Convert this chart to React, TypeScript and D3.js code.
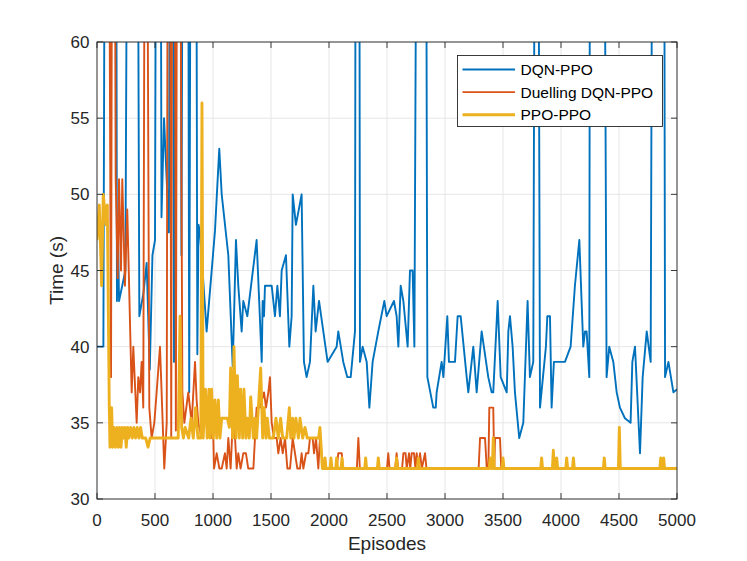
import React from "react";
import * as d3 from "d3";

// DQN-PPO (values above 60 run off the top of the axes)
const dqnEpisodes = [
  0, 55, 68, 165, 172, 180, 190, 245, 262, 350, 365, 400, 428, 455, 478, 500, 510, 548, 556, 578,
  620, 630, 655, 664, 672, 720, 728, 740, 785, 795, 808, 855, 865, 875, 888, 945, 1017, 1054, 1075,
  1132, 1170, 1198, 1218, 1247, 1261, 1296, 1376, 1420, 1428, 1440, 1448, 1506, 1534, 1555, 1577,
  1592, 1629, 1658, 1678, 1687, 1715, 1764, 1784, 1807, 1836, 1865, 1885, 1914, 1988, 2066, 2080,
  2123, 2158, 2187, 2224, 2230, 2261, 2267, 2290, 2325, 2348, 2376, 2425, 2477, 2497, 2560, 2583,
  2598, 2618, 2641, 2678, 2698, 2721, 2736, 2756, 2836, 2848, 2899, 2920, 2928, 2971, 2986, 3020,
  3034, 3086, 3109, 3135, 3187, 3201, 3244, 3273, 3316, 3373, 3402, 3416, 3454, 3480, 3532, 3546,
  3560, 3583, 3603, 3640, 3675, 3712, 3732, 3761, 3775, 3804, 3819, 3870, 3882, 3905, 3919, 3939,
  4034, 4083, 4120, 4158, 4192, 4207, 4221, 4244, 4250, 4373, 4393, 4416, 4451, 4480, 4508, 4551,
  4600, 4615, 4638, 4681, 4704, 4739, 4773, 4788, 4889, 4897, 4926, 4969, 5000,
];
const dqnTime = [
  40, 40, 75, 75, 43, 48, 43, 45, 75, 75, 42, 43.5, 45.5, 38.5, 46, 47, 75, 75, 48.5, 55,
  47.5, 75, 75, 39, 75, 75, 46, 75, 75, 37, 75, 75, 39.5, 48, 47.5, 41, 47.6, 53, 50,
  46, 38.7, 47, 44, 41, 43, 42, 47, 39, 43, 42, 44, 44, 42, 44, 42,
  45, 46, 40, 42, 50, 48, 50, 39, 38, 39, 44, 41, 43, 39, 40, 41,
  39, 38, 38, 41, 75, 75, 39, 40, 39, 36, 39, 41, 43, 42, 43, 42,
  40, 44, 43, 40, 45, 45, 40, 75, 75, 38, 36, 36, 37, 39, 38, 42,
  39, 39, 42, 42, 38, 37, 40, 37, 41, 38, 37, 37, 43, 38, 37, 41,
  42, 40, 37, 34, 35, 43, 38, 39, 75, 75, 36, 40, 42, 42, 36, 39,
  39, 40, 44, 47, 40, 41, 41, 38, 75, 75, 38, 40, 39, 37, 36, 35.3,
  35, 39, 40, 33, 38, 41, 39, 75, 75, 38, 39, 37, 37.2,
];

// Duelling DQN-PPO
const duelEpisodes = [
  0, 100, 121, 132, 150, 161, 178, 190, 207, 218, 241, 261, 299, 313, 342, 356, 371, 385, 399, 414,
  428, 451, 471, 494, 514, 543, 557, 580, 601, 612, 628, 640, 650, 668, 680, 692, 712, 736, 753,
  787, 816, 845, 859, 873, 902, 931, 960, 989, 1003, 1009, 1032, 1055, 1075, 1103, 1118, 1132, 1152,
  1170, 1190, 1204, 1218, 1238, 1261, 1284, 1304, 1348, 1362, 1376, 1405, 1440, 1457, 1477, 1491,
  1506, 1526, 1549, 1563, 1583, 1601, 1621, 1641, 1664, 1687, 1707, 1727, 1750, 1764, 1779, 1802,
  1822, 1836, 1859, 1871, 1888, 1908, 1922, 1951, 2066, 2080, 2110, 2120, 2240, 2253, 2266, 2500,
  2511, 2522, 2570, 2583, 2596, 2630, 2641, 2660, 2670, 2690, 2700, 2713, 2733, 2745, 2756, 2770,
  2785, 2800, 2828, 2840, 3290, 3302, 3345, 3360, 3374, 3382, 3416, 3425, 3431, 3474, 3485, 5000,
];
const duelTime = [
  80, 80, 38, 80, 80, 51, 44.5, 51, 45, 51, 44, 49, 37, 40, 35, 38, 37, 39, 36, 80,
  80, 36, 34, 35, 37, 40, 37, 32, 35, 80, 80, 34, 80, 80, 34.5, 80, 80, 37, 35,
  37, 35, 39, 36.5, 35, 34, 37, 35, 34, 34, 32, 33, 32, 32, 33, 32, 34, 32,
  35, 34, 32, 33, 32, 33, 33, 32, 32, 34, 36, 36, 37, 36, 37, 38,
  35, 34, 34, 33, 34, 33, 34, 32, 32, 34, 33, 32, 32, 33, 32, 33,
  33, 34, 34, 33, 34, 32, 34, 32, 32, 33, 33, 32, 32, 34, 32, 32,
  33, 32, 32, 33, 32, 32, 33, 33, 32, 33, 32, 33, 33, 32, 33, 32,
  33, 32, 33, 32, 32, 34, 34, 32, 32, 36, 36, 32, 34, 34, 32, 32,
];

// PPO-PPO
const ppoEpisodes = [
  0, 20, 40, 54, 78, 89, 106, 112, 126, 135, 146, 160, 172, 184, 195, 207, 218, 230, 241, 252,
  264, 275, 290, 305, 318, 333, 347, 362, 376, 390, 420, 440, 458, 700, 716, 730, 745, 760, 790,
  810, 830, 850, 870, 895, 905, 915, 935, 950, 965, 974, 988, 1003, 1017, 1032, 1046, 1060, 1075,
  1103, 1124, 1141, 1152, 1170, 1181, 1198, 1210, 1227, 1238, 1256, 1267, 1284, 1296, 1313, 1325,
  1348, 1362, 1376, 1391, 1411, 1428, 1440, 1457, 1468, 1486, 1520, 1543, 1563, 1583, 1601, 1635,
  1658, 1670, 1687, 1698, 1715, 1736, 1750, 1773, 1793, 1813, 1910, 1922, 1943, 1958, 1966, 1974,
  2009, 2017, 2025, 2058, 2066, 2074, 2104, 2112, 2120, 2308, 2316, 2324, 2417, 2425, 2433, 2575,
  2583, 2591, 2762, 2770, 2778, 3380, 3390, 3400, 3408, 3416, 3424, 3492, 3500, 3508, 3825, 3833,
  3841, 3926, 3934, 3942, 3955, 3963, 3971, 4041, 4049, 4057, 4099, 4107, 4115, 4365, 4373, 4381,
  4495, 4503, 4511, 4852, 4860, 4868, 4877, 4885, 4893, 5000,
];
const ppoTime = [
  47, 49.3, 44, 50, 48, 49.3, 36, 33.4, 36, 33.4, 34.7, 33.4, 34.7, 33.4, 34.7, 33.4, 34.7, 34, 34.7, 33.4,
  34.7, 34, 34.7, 34, 34.7, 34, 34.7, 34, 34.7, 34, 34, 33.4, 34, 34, 42, 34.7, 34, 34.7, 34,
  35.3, 34, 36, 34, 34, 56, 34, 37.2, 34, 37.2, 34, 37.2, 34, 36.5, 34, 36.5, 34, 35.3,
  35.3, 35.3, 34.7, 38.6, 34, 40, 34, 38.1, 34, 37.2, 34, 37.2, 34, 35.3, 34, 36.7,
  34, 35.3, 34, 36, 38.6, 34, 36, 34, 35.3, 34, 34, 35.3, 34, 35.3, 34, 34,
  36, 34, 35.3, 34, 35.3, 34, 35.3, 34, 34.7, 34, 34, 34.7, 32, 32, 32.7, 32,
  32, 32.7, 32, 32, 32.7, 32, 32, 32.7, 32, 32, 32.7, 32, 32, 32.7, 32, 32,
  32.7, 32, 32, 32.7, 32, 32, 32.7, 32, 32, 34, 32, 32, 32.7, 32, 32, 32.7,
  32, 32, 33.2, 32, 32, 32.7, 32, 32, 32.7, 32, 32, 32.7, 32, 32, 32.7, 32,
  32, 34.7, 32, 32, 32.7, 32, 32, 32.7, 32, 32,
];

const xTicks = [0, 500, 1000, 1500, 2000, 2500, 3000, 3500, 4000, 4500, 5000];
const yTicks = [30, 35, 40, 45, 50, 55, 60];

const seriesNames = ["DQN-PPO", "Duelling DQN-PPO", "PPO-PPO"];
const seriesColors = ["#0072BD", "#D95319", "#EDB120"];
const seriesWidths = [1.9, 1.9, 2.9];

const W = 747;
const H = 561;
const margin = { top: 42, right: 70, bottom: 62, left: 97 };
const font = "'Liberation Sans', Arial, Helvetica, sans-serif";
const axisColor = "#262626";

const App: React.FC = () => {
  const x = d3.scaleLinear().domain([0, 5000]).range([margin.left, W - margin.right]);
  const y = d3.scaleLinear().domain([30, 60]).range([H - margin.bottom, margin.top]);
  const [x0, x1] = x.range();
  const [y0, y1] = y.range();

  const line = d3
    .line<[number, number]>()
    .x((d) => x(d[0]))
    .y((d) => y(d[1]));

  const series = [
    d3.zip(dqnEpisodes, dqnTime) as [number, number][],
    d3.zip(duelEpisodes, duelTime) as [number, number][],
    d3.zip(ppoEpisodes, ppoTime) as [number, number][],
  ];

  const legend = { x: 457.5, y: 55.5, w: 205, h: 71, row: 22.6 };

  return (
    <svg
      width={W}
      height={H}
      style={{ position: "absolute", left: 0, top: 0, background: "#fff" }}
      fontFamily={font}
    >
      <defs>
        <clipPath id="plotArea">
          <rect x={x0} y={y1} width={x1 - x0} height={y0 - y1} />
        </clipPath>
      </defs>

      {/* grid */}
      <g stroke="#e6e6e6" strokeWidth={1}>
        {xTicks.map((t) => (
          <line key={"gx" + t} x1={x(t)} x2={x(t)} y1={y1} y2={y0} />
        ))}
        {yTicks.map((t) => (
          <line key={"gy" + t} x1={x0} x2={x1} y1={y(t)} y2={y(t)} />
        ))}
      </g>

      {/* data */}
      <g clipPath="url(#plotArea)" fill="none" strokeLinejoin="round">
        {series.map((s, i) => (
          <path
            key={seriesNames[i]}
            d={line(s) ?? ""}
            stroke={seriesColors[i]}
            strokeWidth={seriesWidths[i]}
          />
        ))}
      </g>

      {/* box and ticks */}
      <rect x={x0} y={y1} width={x1 - x0} height={y0 - y1} fill="none" stroke={axisColor} strokeWidth={0.9} />
      <g stroke={axisColor} strokeWidth={0.9}>
        {xTicks.map((t) => (
          <g key={"tx" + t}>
            <line x1={x(t)} x2={x(t)} y1={y0} y2={y0 - 6} />
            <line x1={x(t)} x2={x(t)} y1={y1} y2={y1 + 6} />
          </g>
        ))}
        {yTicks.map((t) => (
          <g key={"ty" + t}>
            <line x1={x0} x2={x0 + 6} y1={y(t)} y2={y(t)} />
            <line x1={x1} x2={x1 - 6} y1={y(t)} y2={y(t)} />
          </g>
        ))}
      </g>

      {/* tick labels */}
      <g fill={axisColor} fontSize={17}>
        {xTicks.map((t) => (
          <text key={"lx" + t} x={x(t)} y={526} textAnchor="middle">
            {t}
          </text>
        ))}
        {yTicks.map((t) => (
          <text key={"ly" + t} x={89.5} y={y(t)} dy="0.36em" textAnchor="end">
            {t}
          </text>
        ))}
      </g>

      {/* axis labels */}
      <text x={(x0 + x1) / 2} y={550} textAnchor="middle" fontSize={19} fill={axisColor}>
        Episodes
      </text>
      <text
        transform={`translate(63,${(y0 + y1) / 2}) rotate(-90)`}
        textAnchor="middle"
        fontSize={19}
        fill={axisColor}
      >
        Time (s)
      </text>

      {/* legend */}
      <g>
        <rect x={legend.x} y={legend.y} width={legend.w} height={legend.h} fill="#fff" stroke={axisColor} strokeWidth={0.9} />
        {seriesNames.map((name, i) => {
          const ly = legend.y + 14 + i * legend.row;
          return (
            <g key={"leg" + name}>
              <line x1={462.5} x2={515} y1={ly} y2={ly} stroke={seriesColors[i]} strokeWidth={seriesWidths[i]} />
              <text x={520.5} y={ly} dy="0.36em" fontSize={15.5} fill="#000">
                {name}
              </text>
            </g>
          );
        })}
      </g>
    </svg>
  );
};

export default App;
